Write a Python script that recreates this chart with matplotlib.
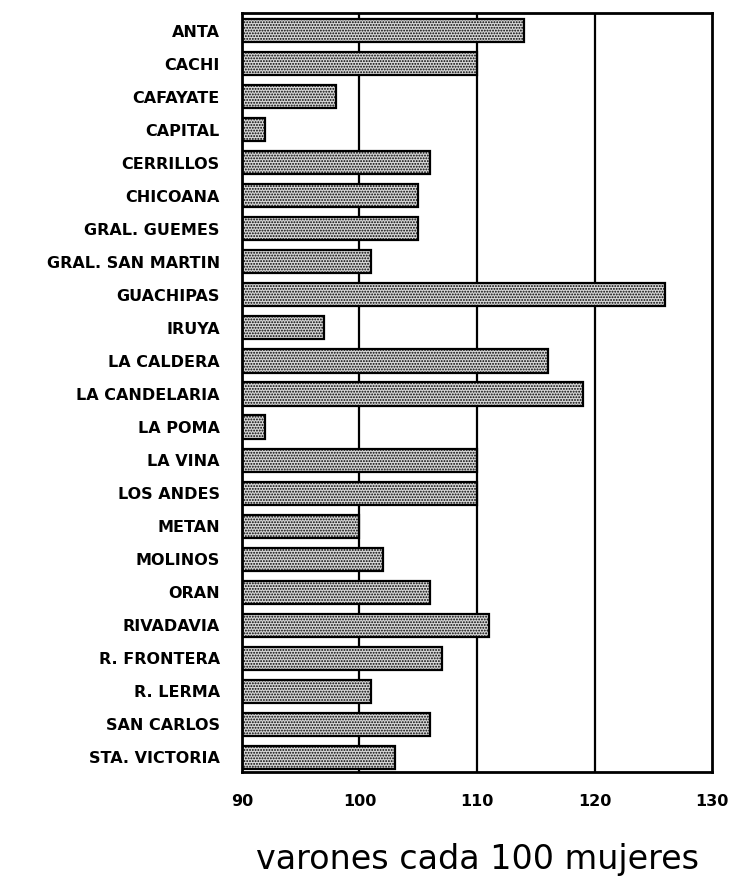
import numpy as np
import matplotlib
matplotlib.use("Agg")
import matplotlib.pyplot as plt

# departamentos y razon de masculinidad
departamentos = ['ANTA', 'CACHI', 'CAFAYATE', 'CAPITAL', 'CERRILLOS', 'CHICOANA',
                 'GRAL. GUEMES', 'GRAL. SAN MARTIN', 'GUACHIPAS', 'IRUYA',
                 'LA CALDERA', 'LA CANDELARIA', 'LA POMA', 'LA VINA', 'LOS ANDES',
                 'METAN', 'MOLINOS', 'ORAN', 'RIVADAVIA', 'R. FRONTERA',
                 'R. LERMA', 'SAN CARLOS', 'STA. VICTORIA']
razon = [114, 110, 98, 92, 106, 105, 105, 101, 126, 97, 116, 119, 92, 110, 110,
         100, 102, 106, 111, 107, 101, 106, 103]
xticks = [90, 100, 110, 120, 130]
xlabel = 'varones cada 100 mujeres'

plt.rcParams['hatch.color'] = '#3a3a3a'
plt.rcParams['hatch.linewidth'] = 0.9

fig = plt.figure(figsize=(7.36, 8.83), dpi=100)
ax = fig.add_axes([0.3288, 0.1257, 0.6386, 0.8599])

y = np.arange(len(departamentos))
base = 90
for xv in xticks[1:-1]:
    ax.axvline(xv, color='black', lw=1.6, zorder=1)
ax.barh(y, np.array(razon) - base, left=base, height=0.7,
        facecolor='#d6d6d6', edgecolor='black', linewidth=1.6,
        hatch='......', zorder=2)

ax.set_xlim(90, 130)
ax.set_ylim(len(departamentos) - 1 + 0.44, -0.54)
ax.set_yticks(y)
ax.set_yticklabels(departamentos, fontsize=11.5, fontweight='bold')
ax.set_xticks(xticks)
ax.set_xticklabels([str(t) for t in xticks], fontsize=11.5, fontweight='bold')
ax.tick_params(axis='both', length=0)
ax.tick_params(axis='y', pad=16)
ax.tick_params(axis='x', pad=16)
for s in ax.spines.values():
    s.set_linewidth(2)
ax.set_xlabel(xlabel, fontsize=24, labelpad=24)

fig.savefig('out.png', dpi=100)
